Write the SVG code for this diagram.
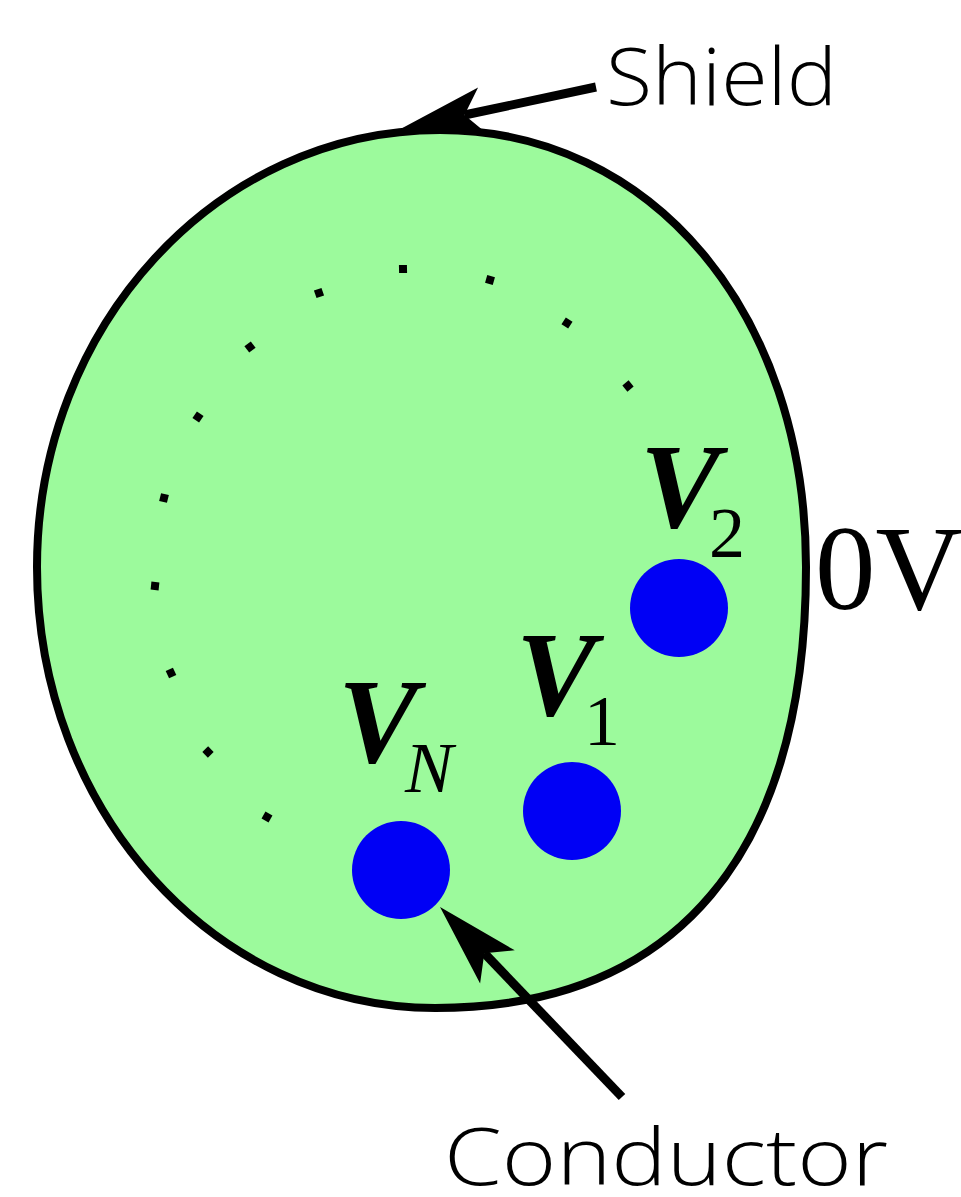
<svg xmlns="http://www.w3.org/2000/svg" width="961" height="1197" viewBox="0 0 961 1197">
<style>
.shield{fill:#9cfa9c;stroke:#000;stroke-width:8}
.cond{fill:#0000f5}
.dot{fill:#000}
.lbl{font-family:"Open Sans","Liberation Sans",sans-serif;font-weight:300;fill:#000}
.var{font-family:"Liberation Serif","Times New Roman",serif;font-style:italic;font-weight:bold;fill:#000}
.sub{font-family:"Liberation Serif","Times New Roman",serif;fill:#000}
.conn{stroke:#000;stroke-width:9;fill:none;marker-end:url(#head)}
</style>
<defs>
<marker id="head" markerUnits="userSpaceOnUse" viewBox="-20 -26 90 52" markerWidth="90" markerHeight="52" refX="0" refY="0" orient="auto">
<path d="M64,0 L-19,-24 L0,0 L-19,24 Z" fill="#000"/>
</marker>
</defs>
<g id="shield">
<path class="shield" d="M440,130 C652,130 806,313 806,567 C806,854 676,1008 435,1008 C215,1008 37,811 37,567 C37,326 217,130 440,130 Z"/>
</g>
<g id="dots">
<rect class="dot" x="-4" y="-4" width="8" height="8" transform="translate(403,269) rotate(-1)"/>
<rect class="dot" x="-4" y="-4" width="8" height="8" transform="translate(490,280) rotate(16)"/>
<rect class="dot" x="-4" y="-4" width="8" height="8" transform="translate(567,323) rotate(33)"/>
<rect class="dot" x="-4" y="-4" width="8" height="8" transform="translate(628,386) rotate(51)"/>
<rect class="dot" x="-4" y="-4" width="8" height="8" transform="translate(319,293) rotate(-19)"/>
<rect class="dot" x="-4" y="-4" width="8" height="8" transform="translate(250,347) rotate(-37)"/>
<rect class="dot" x="-4" y="-4" width="8" height="8" transform="translate(198,417) rotate(34)"/>
<rect class="dot" x="-4" y="-4" width="8" height="8" transform="translate(164,498) rotate(14)"/>
<rect class="dot" x="-4" y="-4" width="8" height="8" transform="translate(155,586) rotate(6)"/>
<rect class="dot" x="-4" y="-4" width="8" height="8" transform="translate(171,673) rotate(-25)"/>
<rect class="dot" x="-4" y="-4" width="8" height="8" transform="translate(208,752) rotate(46)"/>
<rect class="dot" x="-4" y="-4" width="8" height="8" transform="translate(267,817) rotate(29)"/>
</g>
<g id="conductor-2">
<circle class="cond" cx="679" cy="608" r="49"/>
<text class="var" x="640" y="527" font-size="120">V</text>
<text class="sub" x="709" y="557" font-size="72">2</text>
</g>
<g id="conductor-1">
<circle class="cond" cx="572" cy="811" r="49"/>
<text class="var" x="516" y="715" font-size="120">V</text>
<text class="sub" x="584" y="745" font-size="72">1</text>
</g>
<g id="conductor-N">
<circle class="cond" cx="401" cy="870" r="49"/>
<text class="var" x="338" y="762" font-size="120">V</text>
<text class="sub" x="405" y="792" font-size="72" font-style="italic">N</text>
</g>
<g id="label-0V">
<text class="sub" x="815" y="609" font-size="121">0V</text>
</g>
<g id="connectors">
<line class="conn" x1="596" y1="87" x2="464.5" y2="115"/>
<line class="conn" x1="622" y1="1097" x2="484.3" y2="953.2"/>
</g>
<g id="label-shield">
<text class="lbl" x="606" y="105" font-size="80" textLength="231" lengthAdjust="spacingAndGlyphs">Shield</text>
</g>
<g id="label-conductor">
<text class="lbl" x="444" y="1185" font-size="80" textLength="444" lengthAdjust="spacingAndGlyphs">Conductor</text>
</g>
</svg>
